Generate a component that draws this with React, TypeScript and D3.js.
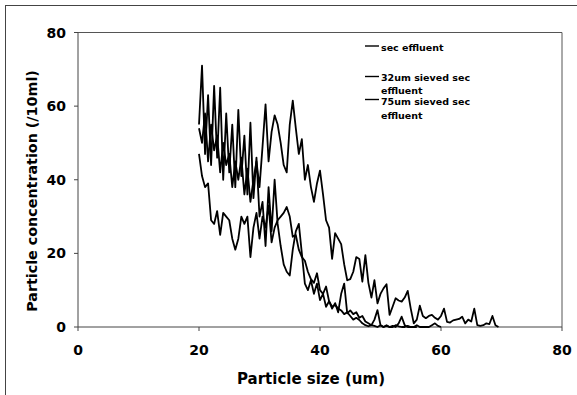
import React from "react";
import * as d3 from "d3";

// Particle sizes (um) sampled along the x axis
const sizes: number[] = [
  20, 20.5, 21, 21.5, 22, 22.5, 23, 23.5, 24, 24.5,
  25, 25.5, 26, 26.5, 27, 27.5, 28, 28.5, 29, 29.5,
  30, 30.5, 31, 31.5, 32, 32.5, 33, 33.5, 34, 34.5,
  35, 35.5, 36, 36.5, 37, 37.5, 38, 38.5, 39, 39.5,
  40, 40.5, 41, 41.5, 42, 42.5, 43, 43.5, 44, 44.5,
  45, 45.5, 46, 46.5, 47, 47.5, 48, 48.5, 49, 49.5,
  50, 50.5, 51, 51.5, 52, 52.5, 53, 53.5, 54, 54.5,
  55, 55.5, 56, 56.5, 57, 57.5, 58, 58.5, 59, 59.5,
  60, 60.5, 61, 61.5, 62, 62.5, 63, 63.5, 64, 64.5,
  65, 65.5, 66, 66.5, 67, 67.5, 68, 68.5, 69, 69.5,
];

// sec effluent
const secEffluent: number[] = [
  54, 50, 58, 45, 55, 48, 52, 42, 50, 44,
  47, 38, 45, 40, 46, 36, 43, 34, 40, 45,
  38, 49, 60.5, 45, 53, 57.5, 55, 50, 44, 42,
  55, 61.5, 54, 47, 51, 40, 44, 38, 34, 39,
  42.5, 36, 29, 27, 18.5, 25.5, 24, 22.5, 17, 12.7,
  13, 15, 19, 18.5, 12.3, 19.5, 12, 8, 12.7, 6.4,
  9, 10.5, 11.6, 3.3, 5.5, 7.8, 7.2, 6.9, 8, 9.8,
  5, 1, 2, 5.8, 3, 2.4, 3, 3.3, 2.5, 2,
  3, 5, 1.4, 1.2, 1.8, 2, 2.2, 2.8, 1, 2,
  1.5, 5, 0.5, 0.3, 0.5, 1, 0.8, 3, 0.5, 0,
];

// 32um sieved sec effluent
const sieved32: number[] = [
  55, 71, 47, 63, 44, 65.5, 46, 65, 40, 58,
  42, 55, 38, 59, 41, 52, 36, 55.5, 35, 46,
  30, 34, 22, 38, 26, 40, 28, 22, 17, 15,
  14, 21, 26, 28, 20, 11.8, 10, 12.7, 9, 11.8,
  7.3, 9, 5.5, 7, 5, 6.5, 4, 9, 11.8, 3.7,
  4.5, 3.5, 4, 2.5, 3, 1.5, 1, 0.5, 2, 4.6,
  0.5, 0, 0.5, 0, 0.3, 0, 1, 2.8, 0.5, 0,
  0, 0, 0.5, 0, 0, 0, 0, 0.5, 1, 0.3,
  0,
];

// 75um sieved sec effluent
const sieved75: number[] = [
  47, 41, 38, 39, 29, 28, 31.5, 25, 31, 30,
  29, 24, 21, 24, 30, 28, 30, 19, 27, 31,
  24, 30, 27, 33, 23, 27, 29, 30, 31, 32.6,
  30, 24.5, 25, 21, 19, 18, 15, 13, 12, 14.6,
  10, 9, 11, 7, 5.5, 6, 5, 4.5, 3.5, 4,
  3, 2, 2.5, 1.9, 1, 0.5, 0.2, 0.5, 0.3, 0,
  0.5, 0, 0.3, 0, 0, 0.5, 0.2, 0, 0, 0.3,
  0, 0, 0,
];

const xTicks: number[] = [0, 20, 40, 60, 80];
const yTicks: number[] = [0, 20, 40, 60, 80];
const legendLabels: string[][] = [
  ["sec effluent"],
  ["32um sieved sec", "effluent"],
  ["75um sieved sec", "effluent"],
];

const W = 577;
const H = 395;
const left = 78;
const right = 562;
const top = 32.5;
const bottom = 327;
const FONT = "'DejaVu Sans', Verdana, sans-serif";

export default function App() {
  const x = d3.scaleLinear().domain([0, 80]).range([left, right]);
  const y = d3.scaleLinear().domain([0, 80]).range([bottom, top]);
  const line = d3
    .line<number>()
    .x((_, i) => x(sizes[i]))
    .y((d) => y(d));
  const series = [secEffluent, sieved32, sieved75];
  const legendLineY = [46, 76.5, 99.5];
  const legendBase = [
    [50.5],
    [81, 93.5],
    [105, 118.5],
  ];

  return (
    <svg
      width={W}
      height={H}
      style={{ position: "absolute", left: 0, top: 0, background: "#fff" }}
    >
      <rect x={0} y={0} width={W} height={H} fill="#fff" />
      {/* outer chart frame */}
      <rect x={5.5} y={5.5} width={620} height={420} fill="none" stroke="#444" strokeWidth={1} />
      {/* plot area border */}
      <line x1={left} x2={right} y1={top} y2={top} stroke="#555" strokeWidth={1} />
      <line x1={right} x2={right} y1={top} y2={bottom} stroke="#555" strokeWidth={1} />
      {/* axes */}
      <line x1={left} x2={left} y1={top} y2={bottom} stroke="#444" strokeWidth={1} />
      <line x1={left} x2={right} y1={bottom} y2={bottom} stroke="#444" strokeWidth={1} />
      {yTicks.map((t) => (
        <g key={"y" + t}>
          <line x1={left - 4} x2={left} y1={y(t)} y2={y(t)} stroke="#444" />
          <text
            x={left - 12}
            y={y(t)}
            dy="0.36em"
            textAnchor="end"
            fontFamily={FONT}
            fontWeight="bold"
            fontSize={14}
          >
            {t}
          </text>
        </g>
      ))}
      {xTicks.map((t) => (
        <g key={"x" + t}>
          <line x1={x(t)} x2={x(t)} y1={bottom} y2={bottom + 4} stroke="#444" />
          <text
            x={x(t)}
            y={355}
            textAnchor="middle"
            fontFamily={FONT}
            fontWeight="bold"
            fontSize={14}
          >
            {t}
          </text>
        </g>
      ))}
      {series.map((s, k) => (
        <path
          key={"s" + k}
          d={line(s) || ""}
          fill="none"
          stroke="#000"
          strokeWidth={1.8}
          strokeLinejoin="round"
        />
      ))}
      {/* legend */}
      {legendLabels.map((lines, k) => (
        <g key={"l" + k}>
          <line x1={365} x2={379} y1={legendLineY[k]} y2={legendLineY[k]} stroke="#000" strokeWidth={1.4} />
          {lines.map((txt, j) => (
            <text
              key={j}
              x={381}
              y={legendBase[k][j]}
              fontFamily={FONT}
              fontWeight="bold"
              fontSize={9.5}
            >
              {txt}
            </text>
          ))}
        </g>
      ))}
      {/* axis titles */}
      <text
        x={311}
        y={384}
        textAnchor="middle"
        fontFamily={FONT}
        fontWeight="bold"
        fontSize={15}
      >
        Particle size (um)
      </text>
      <text
        transform={`translate(37,191) rotate(-90)`}
        textAnchor="middle"
        fontFamily={FONT}
        fontWeight="bold"
        fontSize={14.3}
      >
        Particle concentration (/10ml)
      </text>
    </svg>
  );
}
